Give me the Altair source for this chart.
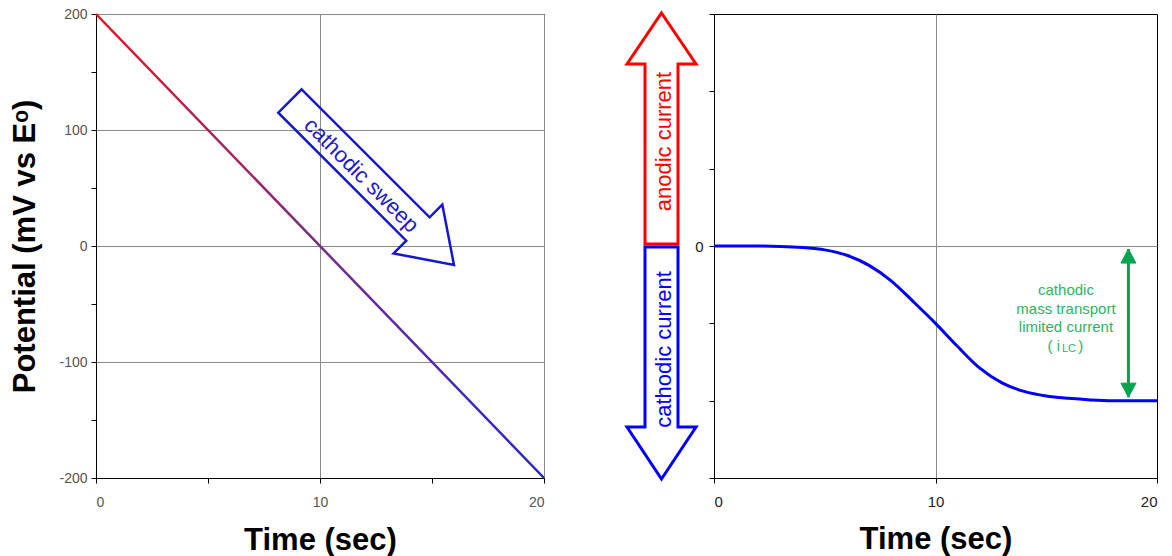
import altair as alt
import pandas as pd

# ---------------- data ----------------
# Left panel: linear cathodic potential sweep
sweep_time = [0, 20]
sweep_potential = [200, -200]

# Right panel: current response
resp_time = [0, 1, 2, 3, 4, 5, 6, 7, 8, 9, 10, 11, 12, 13, 14, 15, 16, 17, 18, 19, 20]
resp_current = [0, 0, 0, -0.005, -0.02, -0.05, -0.12, -0.25, -0.45, -0.72, -1.0,
                -1.3, -1.58, -1.77, -1.88, -1.94, -1.97, -1.99, -2.0, -2.0, -2.0]

left_x_ticks = [0, 5, 10, 15, 20]
left_y_ticks = [-200, -150, -100, -50, 0, 50, 100, 150, 200]
right_x_ticks = [0, 10, 20]
right_y_ticks = [-3, -2, -1, 0, 1, 2, 3]

# annotation anchors (data coordinates)
sweep_arrow = {"x": [12.32], "y": [54.3]}
sweep_label = {"x": [11.85], "y": [61.0], "t": ["cathodic sweep"]}
up_arrow = {"x": [-2.37], "y": [1.519]}
down_arrow = {"x": [-2.37], "y": [-1.513]}
anodic_label = {"x": [-1.94], "y": [1.351], "t": ["anodic current"]}
cathodic_label = {"x": [-1.94], "y": [-1.338], "t": ["cathodic current"]}
ilc_x = [18.71]
ilc_top = [-0.04]
ilc_bottom = [-1.955]

FONT = "Liberation Sans"

ARROW_RIGHT = "M-116,-16.5L65,-16.5L65,-34.5L116,0L65,34.5L65,16.5L-116,16.5Z"
ARROW_UP = "M0,-115.5L34.5,-64.5L16.5,-64.5L16.5,115.5L-16.5,115.5L-16.5,-64.5L-34.5,-64.5Z"
ARROW_DOWN = "M0,116L34.5,64L16.5,64L16.5,-116L-16.5,-116L-16.5,64L-34.5,64Z"
HEAD_UP = "M0,0L7.5,14L-7.5,14Z"
HEAD_DOWN = "M0,0L7.5,-14L-7.5,-14Z"

GRID = "#8a8a8a"
GREEN = "#00A550"
GREEN_TXT = "#2EB35F"

# ---------------- left panel ----------------
lx = alt.Scale(domain=[0, 20], nice=False, zero=False)
ly = alt.Scale(domain=[-200, 200], nice=False, zero=False)

left_xaxis = alt.Axis(
    values=left_x_ticks, title="Time (sec)",
    labelExpr="datum.value % 10 === 0 ? '' + datum.value : ''",
    grid=True, gridColor=GRID,
    gridOpacity={"condition": {"test": "datum.value % 10 === 0", "value": 1}, "value": 0},
    domainColor="#000", tickColor="#000", tickSize=5,
    labelFont=FONT, labelFontSize=14, labelColor="#555", labelPadding=12,
    titleFont=FONT, titleFontSize=31, titleFontWeight="bold", titleColor="#000",
    titlePadding=16,
)
left_yaxis = alt.Axis(
    values=left_y_ticks, title="Potential (mV vs Eᵒ)",
    labelExpr="datum.value % 100 === 0 ? '' + datum.value : ''",
    grid=True, gridColor=GRID,
    gridOpacity={"condition": {"test": "datum.value % 100 === 0", "value": 1}, "value": 0},
    domainColor="#000", tickColor="#000", tickSize=5,
    labelFont=FONT, labelFontSize=14, labelColor="#555", labelPadding=4,
    titleFont=FONT, titleFontSize=31, titleFontWeight="bold", titleColor="#000",
    titlePadding=17,
)

sweep_df = pd.DataFrame({"t": sweep_time, "E": sweep_potential})
grad = alt.Gradient(
    gradient="linear",
    stops=[alt.GradientStop(color="#E8101C", offset=0),
           alt.GradientStop(color="#7A2C86", offset=0.5),
           alt.GradientStop(color="#2222D8", offset=1)],
    x1=0, x2=0, y1=0, y2=1,
)
left_line = alt.Chart(sweep_df).mark_line(stroke=grad, strokeWidth=2.5).encode(
    x=alt.X("t:Q", scale=lx, axis=left_xaxis),
    y=alt.Y("E:Q", scale=ly, axis=left_yaxis),
)
left_arrow = alt.Chart(pd.DataFrame(sweep_arrow)).mark_point(
    shape=ARROW_RIGHT, size=4, angle=45, filled=False, stroke="#1717D0",
    strokeWidth=2.5, opacity=1,
).encode(x=alt.X("x:Q", scale=lx), y=alt.Y("y:Q", scale=ly))
left_text = alt.Chart(pd.DataFrame(sweep_label)).mark_text(
    angle=45, font=FONT, fontSize=22, color="#1C1CC8", align="center", baseline="middle",
).encode(x=alt.X("x:Q", scale=lx), y=alt.Y("y:Q", scale=ly), text="t:N")

left = alt.layer(left_line, left_arrow, left_text).properties(width=448, height=464)

# ---------------- right panel ----------------
rx = alt.Scale(domain=[0, 20], nice=False, zero=False)
ry = alt.Scale(domain=[-3, 3], nice=False, zero=False)

right_xaxis = alt.Axis(
    values=right_x_ticks, title="Time (sec)",
    grid=True, gridColor=GRID,
    gridOpacity={"condition": {"test": "datum.value === 10", "value": 1}, "value": 0},
    domainColor="#000", tickColor="#000", tickSize=5,
    labelFont=FONT, labelFontSize=15, labelColor="#222", labelPadding=11,
    titleFont=FONT, titleFontSize=31, titleFontWeight="bold", titleColor="#000",
    titlePadding=15,
)
right_yaxis = alt.Axis(
    values=right_y_ticks, title=None,
    labelExpr="datum.value === 0 ? '0' : ''",
    grid=True, gridColor=GRID,
    gridOpacity={"condition": {"test": "datum.value === 0", "value": 1}, "value": 0},
    domainColor="#000", tickColor="#000", tickSize=5,
    labelFont=FONT, labelFontSize=15, labelColor="#222", labelPadding=6,
)

resp_df = pd.DataFrame({"t": resp_time, "i": resp_current})
right_line = alt.Chart(resp_df).mark_line(color="#0000FF", strokeWidth=3, interpolate="monotone").encode(
    x=alt.X("t:Q", scale=rx, axis=right_xaxis),
    y=alt.Y("i:Q", scale=ry, axis=right_yaxis),
)

def pt(d, shape, color, filled=False):
    if filled:
        m = alt.Chart(pd.DataFrame(d)).mark_point(shape=shape, size=4, filled=True,
                                                  fill=color, stroke=color, strokeWidth=1, opacity=1)
    else:
        m = alt.Chart(pd.DataFrame(d)).mark_point(shape=shape, size=4, filled=False,
                                                  stroke=color, strokeWidth=3, opacity=1)
    return m.encode(x=alt.X("x:Q", scale=rx), y=alt.Y("y:Q", scale=ry))

up = pt(up_arrow, ARROW_UP, "#FF0000")
down = pt(down_arrow, ARROW_DOWN, "#0000FF")
anodic = alt.Chart(pd.DataFrame(anodic_label)).mark_text(
    angle=270, font=FONT, fontSize=22, color="#FF0000", align="center", baseline="alphabetic",
).encode(x=alt.X("x:Q", scale=rx), y=alt.Y("y:Q", scale=ry), text="t:N")
cathodic = alt.Chart(pd.DataFrame(cathodic_label)).mark_text(
    angle=270, font=FONT, fontSize=22, color="#0000FF", align="center", baseline="alphabetic",
).encode(x=alt.X("x:Q", scale=rx), y=alt.Y("y:Q", scale=ry), text="t:N")

ilc_df = pd.DataFrame({"x": ilc_x, "y": ilc_top, "y2": ilc_bottom})
ilc_rule = alt.Chart(ilc_df).mark_rule(color=GREEN, strokeWidth=3).encode(
    x=alt.X("x:Q", scale=rx), y=alt.Y("y:Q", scale=ry), y2="y2:Q",
)
head_top = pt({"x": ilc_x, "y": ilc_top}, HEAD_UP, GREEN, filled=True)
head_bot = pt({"x": ilc_x, "y": ilc_bottom}, HEAD_DOWN, GREEN, filled=True)

ilc_lines = pd.DataFrame({"x": [15.89], "y": [-0.569],
                          "t": [["cathodic", "mass transport", "limited current"]]})
ilc_text = alt.Chart(ilc_lines).mark_text(
    font=FONT, fontSize=15, lineHeight=18.5, color=GREEN_TXT, align="center", baseline="middle",
).encode(x=alt.X("x:Q", scale=rx), y=alt.Y("y:Q", scale=ry), text="t:N")

ilc_sym = pd.DataFrame({
    "x": [15.62, 15.71, 16.44],
    "y": [-1.287, -1.332, -1.287],
    "t": ["( i", "LC", ")"],
    "s": [15, 11, 15],
})
ilc_left = alt.Chart(ilc_sym.iloc[[0]]).mark_text(
    font=FONT, color=GREEN_TXT, baseline="middle", align="right", fontSize=15,
).encode(x=alt.X("x:Q", scale=rx), y=alt.Y("y:Q", scale=ry), text="t:N")
ilc_rest = alt.Chart(ilc_sym.iloc[[1, 2]]).mark_text(
    font=FONT, color=GREEN_TXT, baseline="middle", align="left",
).encode(x=alt.X("x:Q", scale=rx), y=alt.Y("y:Q", scale=ry), text="t:N",
         size=alt.Size("s:Q", scale=None, legend=None))

right = alt.layer(right_line, up, down, anodic, cathodic, ilc_rule, head_top, head_bot,
                  ilc_text, ilc_left, ilc_rest).properties(width=443, height=464)

chart = alt.hconcat(left, right, spacing=170, bounds="flush").resolve_scale(
    x="independent", y="independent"
).configure_view(stroke="#000", strokeWidth=1).properties(
    padding={"left": 1, "top": -2, "right": 0, "bottom": 0}
)

chart.save("out.html", embed_options={"renderer": "svg", "actions": False})
